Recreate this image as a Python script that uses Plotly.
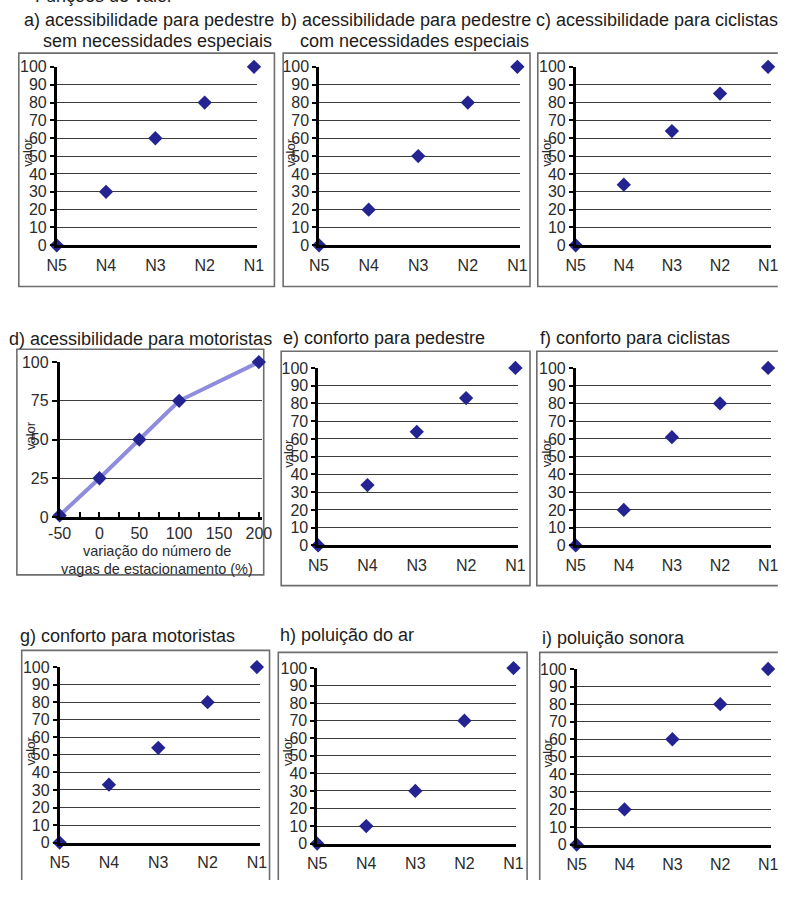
import plotly.graph_objects as go

# The page is 798x899; the html body keeps its default 8px margin,
# so the figure itself is 16px smaller and everything is shifted by 8px.
# Nothing may reach past the page, otherwise the page would scroll.
PAGE_W, PAGE_H = 798, 899
OFF = 8
W, H = PAGE_W - 2 * OFF, PAGE_H - 2 * OFF
RIGHT = PAGE_W - OFF          # right edge of the figure on the page
MAXX, MAXY = PAGE_W - 2, PAGE_H - 2

# ---------------- data ----------------
categories = ["N5", "N4", "N3", "N2", "N1"]
vals_a = [0, 30, 60, 80, 100]
vals_b = [0, 20, 50, 80, 100]
vals_c = [0, 34, 64, 85, 100]
d_x = [-50, 0, 50, 100, 200]
d_y = [1, 25, 50, 75, 100]
vals_e = [0, 34, 64, 83, 100]
vals_f = [0, 20, 61, 80, 100]
vals_g = [0, 33, 54, 80, 100]
vals_h = [0, 10, 30, 70, 100]
vals_i = [0, 20, 60, 80, 100]
y_ticks_n = [0, 10, 20, 30, 40, 50, 60, 70, 80, 90, 100]
y_ticks_d = [0, 25, 50, 75, 100]
x_ticks_d = [-50, 0, 50, 100, 150, 200]

titles = {
    "a": ["a) acessibilidade para pedestre", "sem necessidades especiais"],
    "b": ["b) acessibilidade para pedestre", "com necessidades especiais"],
    "c": ["c) acessibilidade para ciclistas"],
    "d": ["d) acessibilidade para motoristas"],
    "e": ["e) conforto para pedestre"],
    "f": ["f) conforto para ciclistas"],
    "g": ["g) conforto para motoristas"],
    "h": ["h) poluição do ar"],
    "i": ["i) poluição sonora"],
}
d_xtitle = ["variação do número de", "vagas de estacionamento (%)"]
page_title = "Funções de valor"

series = {"a": vals_a, "b": vals_b, "c": vals_c, "e": vals_e, "f": vals_f,
          "g": vals_g, "h": vals_h, "i": vals_i}

# ---------------- layout geometry (page pixels) ----------------
geo = {
    "a": dict(ax=54, lx=257, y0=250, y100=68, box=(15, 54, 278, 292), tx=18, ty=20, t2x=38),
    "b": dict(ax=324, lx=528, y0=250, y100=68, box=(287, 54, 541, 292), tx=283, ty=20, t2x=302),
    "c": dict(ax=588, lx=786, y0=250, y100=68, box=(549, 54, 806, 292), tx=545, ty=20),
    "d": dict(ax=57, lx=262, y0=527, y100=369, box=(13, 356, 267, 586), tx=3, ty=345),
    "e": dict(ax=323, lx=526, y0=556, y100=375, box=(285, 358, 541, 597), tx=285, ty=344),
    "f": dict(ax=588, lx=786, y0=556, y100=375, box=(548, 358, 806, 597), tx=549, ty=344),
    "g": dict(ax=57, lx=260, y0=859, y100=680, box=(18, 663, 273, 910), tx=14, ty=648),
    "h": dict(ax=322, lx=524, y0=860, y100=681, box=(282, 665, 538, 910), tx=282, ty=647),
    "i": dict(ax=589, lx=786, y0=861, y100=682, box=(551, 665, 806, 910), tx=551, ty=650),
}

FONT = "Liberation Sans, Arial, Helvetica, sans-serif"
MARK = "#232391"
GRID = "#3c3c3c"
TXT = "#2b2b2b"
TICK_SIZE = 16
TITLE_SIZE = 18


def px(x):
    return (x - OFF) / W


def py(y):
    return 1 - (y - OFF) / H


fig = go.Figure()
annotations = []
shapes = []

order = ["a", "b", "c", "d", "e", "f", "g", "h", "i"]
for n, key in enumerate(order, start=1):
    g = geo[key]
    xa = "x" if n == 1 else f"x{n}"
    ya = "y" if n == 1 else f"y{n}"
    xname = "xaxis" if n == 1 else f"xaxis{n}"
    yname = "yaxis" if n == 1 else f"yaxis{n}"

    xend = min(g["lx"] + 3, RIGHT)
    xdom = [px(g["ax"]), px(xend)]
    ydom = [py(g["y0"]), py(g["y100"])]

    if key == "d":
        fig.add_trace(go.Scatter(
            x=d_x, y=d_y, xaxis=xa, yaxis=ya, mode="lines+markers",
            line=dict(color="rgba(125,120,215,0.85)", width=4),
            marker=dict(symbol="diamond", size=11, color=MARK),
            cliponaxis=False, showlegend=False))
        span = 250 * (xend - g["ax"]) / (g["lx"] - g["ax"])
        fig.layout[xname] = dict(
            domain=xdom, anchor=ya, range=[-50, -50 + span],
            tickvals=x_ticks_d, ticktext=[str(v) for v in x_ticks_d],
            ticks="inside", ticklen=5, tickwidth=2, tickcolor="black",
            minor=dict(dtick=25, tick0=-50, ticks="inside", ticklen=5,
                       tickwidth=2, tickcolor="black", showgrid=False),
            showline=True, linecolor="black", linewidth=3,
            showgrid=False, zeroline=False,
            tickfont=dict(family=FONT, size=TICK_SIZE, color=TXT),
            fixedrange=True)
        fig.layout[yname] = dict(
            domain=ydom, anchor=xa, range=[0, 100], tickvals=y_ticks_d,
            ticks="outside", ticklen=5, tickwidth=1.5, tickcolor="black",
            showline=True, linecolor="black", linewidth=2.5,
            showgrid=True, gridcolor=GRID, gridwidth=1.3, zeroline=False,
            tickfont=dict(family=FONT, size=TICK_SIZE, color=TXT),
            fixedrange=True)
    else:
        fig.add_trace(go.Scatter(
            x=categories, y=series[key], xaxis=xa, yaxis=ya, mode="markers",
            marker=dict(symbol="diamond", size=11, color=MARK),
            cliponaxis=False, showlegend=False))
        hi = 4 * (xend - g["ax"]) / (g["lx"] - g["ax"])
        fig.layout[xname] = dict(
            domain=xdom, anchor=ya, type="category",
            categoryorder="array", categoryarray=categories,
            range=[0, hi],
            ticks="outside", ticklen=3, tickcolor="rgba(0,0,0,0)",
            showline=True, linecolor="black", linewidth=3,
            showgrid=False, zeroline=False,
            tickfont=dict(family=FONT, size=TICK_SIZE, color=TXT),
            fixedrange=True)
        fig.layout[yname] = dict(
            domain=ydom, anchor=xa, range=[0, 100], tickvals=y_ticks_n,
            ticks="outside", ticklen=4, tickwidth=1.5, tickcolor="black",
            showline=True, linecolor="black", linewidth=2.5,
            showgrid=True, gridcolor=GRID, gridwidth=1.3, zeroline=False,
            tickfont=dict(family=FONT, size=TICK_SIZE, color=TXT),
            fixedrange=True)

    # "valor" label
    annotations.append(dict(
        text="valor", textangle=-90, xref="paper", yref="paper",
        x=px(g["ax"] - 30), y=py((g["y0"] + g["y100"]) / 2 - 4),
        xanchor="center", yanchor="middle", showarrow=False,
        font=dict(family=FONT, size=13, color=TXT)))

    # panel titles
    annotations.append(dict(
        text=titles[key][0], xref="paper", yref="paper",
        x=px(g["tx"]), y=py(g["ty"]), xanchor="left", yanchor="middle",
        showarrow=False, font=dict(family=FONT, size=TITLE_SIZE, color="#1c1c1c")))
    if len(titles[key]) > 1:
        annotations.append(dict(
            text=titles[key][1], xref="paper", yref="paper",
            x=px(g["t2x"]), y=py(g["ty"] + 22), xanchor="left", yanchor="middle",
            showarrow=False, font=dict(family=FONT, size=TITLE_SIZE, color="#1c1c1c")))

    # frame box; the parts that lie past the page edge are left out
    bx0, by0, bx1, by1 = g["box"]
    cx1, cy1 = min(bx1, MAXX), min(by1, MAXY)
    X0, X1, Y0, Y1 = px(bx0), px(cx1), py(by0), py(cy1)
    if bx1 <= MAXX and by1 <= MAXY:
        path = f"M{X0},{Y0} L{X1},{Y0} L{X1},{Y1} L{X0},{Y1} Z"
    elif bx1 > MAXX and by1 <= MAXY:
        path = f"M{X1},{Y0} L{X0},{Y0} L{X0},{Y1} L{X1},{Y1}"
    elif bx1 <= MAXX and by1 > MAXY:
        path = f"M{X0},{Y1} L{X0},{Y0} L{X1},{Y0} L{X1},{Y1}"
    else:
        path = f"M{X0},{Y1} L{X0},{Y0} L{X1},{Y0}"
    shapes.append(dict(type="path", path=path, xref="paper", yref="paper",
                       line=dict(color="#6e6e6e", width=1.6), layer="below"))

# x title for panel d
annotations.append(dict(text=d_xtitle[0], xref="paper", yref="paper",
                        x=px(157), y=py(562), xanchor="center", yanchor="middle",
                        showarrow=False, font=dict(family=FONT, size=14.5, color=TXT)))
annotations.append(dict(text=d_xtitle[1], xref="paper", yref="paper",
                        x=px(157), y=py(580), xanchor="center", yanchor="middle",
                        showarrow=False, font=dict(family=FONT, size=14.5, color=TXT)))

# cut-off page title at the very top (only its lowest strokes show)
annotations.append(dict(text=page_title, xref="paper", yref="paper",
                        x=px(30), y=py(-4), xanchor="left", yanchor="middle",
                        showarrow=False, font=dict(family=FONT, size=TITLE_SIZE, color="#1c1c1c")))

fig.update_layout(
    width=W, height=H, margin=dict(l=0, r=0, t=0, b=0),
    paper_bgcolor="white", plot_bgcolor="white",
    annotations=annotations, shapes=shapes,
    font=dict(family=FONT, color=TXT),
)

fig.write_html("out.html", config={"displayModeBar": False})
